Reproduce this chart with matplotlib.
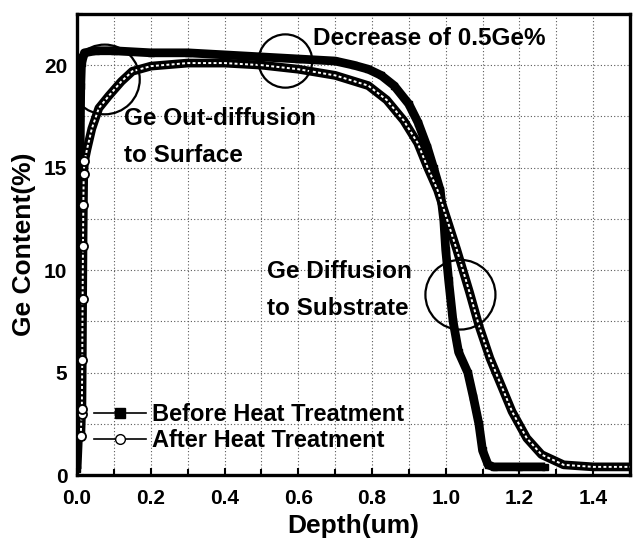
import matplotlib
matplotlib.use("Agg")
import matplotlib.pyplot as plt
from matplotlib.patches import Ellipse
from matplotlib.lines import Line2D
from matplotlib.ticker import MultipleLocator

plt.rcParams['font.family'] = ['Liberation Sans', 'DejaVu Sans']
plt.rcParams['font.weight'] = 'bold'

# ---- data ----
before_x = [0.0, 0.004, 0.006, 0.007, 0.008, 0.009, 0.010, 0.012, 0.02, 0.05, 0.1, 0.2,
            0.3, 0.4, 0.5, 0.6, 0.7, 0.75, 0.79, 0.825, 0.86, 0.9, 0.925, 0.95, 0.967,
            0.985, 0.995, 1.0, 1.008, 1.02, 1.035, 1.06, 1.075, 1.09, 1.10, 1.115, 1.13,
            1.2, 1.27]
before_y = [0.3, 2.0, 5.0, 9.4, 13.6, 17.4, 19.0, 20.1, 20.6, 20.7, 20.7, 20.6,
            20.6, 20.5, 20.4, 20.3, 20.2, 20.0, 19.8, 19.5, 19.0, 18.1, 17.2, 16.0, 15.0,
            13.9, 12.4, 11.0, 9.5, 7.5, 6.0, 5.0, 3.8, 2.5, 1.2, 0.5, 0.4,
            0.4, 0.4]

after_x = [0.010, 0.012, 0.013, 0.014, 0.015, 0.016, 0.017, 0.018, 0.02, 0.027, 0.04,
           0.059, 0.086, 0.12, 0.15, 0.2, 0.3, 0.4, 0.5, 0.6, 0.7, 0.79, 0.84, 0.886,
           0.924, 0.951, 0.978, 1.005, 1.03, 1.05, 1.065, 1.09, 1.12, 1.15, 1.18, 1.22,
           1.26, 1.32, 1.4, 1.5]
after_y = [1.9, 3.0, 3.2, 5.6, 8.6, 11.2, 13.2, 14.7, 15.3, 15.9, 16.9,
           17.9, 18.5, 19.2, 19.7, 19.95, 20.1, 20.1, 20.0, 19.8, 19.5, 19.0, 18.3, 17.3,
           16.2, 15.0, 13.9, 12.4, 11.0, 9.8, 8.9, 7.3, 5.7, 4.4, 3.1, 1.8,
           1.0, 0.5, 0.4, 0.4]

x_ticks = [0.0, 0.2, 0.4, 0.6, 0.8, 1.0, 1.2, 1.4]
x_tick_labels = ["0.0", "0.2", "0.4", "0.6", "0.8", "1.0", "1.2", "1.4"]
y_ticks = [0, 5, 10, 15, 20]
y_tick_labels = ["0", "5", "10", "15", "20"]
series_labels = ["Before Heat Treatment", "After Heat Treatment"]

fig = plt.figure(figsize=(6.37, 5.55), dpi=100)
ax = fig.add_axes([0.121, 0.144, 0.868, 0.831])

ax.set_xlim(0, 1.5)
ax.set_ylim(0, 22.5)

# grid
ax.xaxis.set_minor_locator(MultipleLocator(0.1))
ax.yaxis.set_minor_locator(MultipleLocator(2.5))
ax.grid(True, which='both', color='0.35', linestyle=(0, (1, 2)), linewidth=0.8)
ax.set_axisbelow(True)

# before: thick black line with squares
ax.plot(before_x, before_y, color='black', lw=6.3, marker='s', ms=5,
        solid_joinstyle='round', solid_capstyle='butt', zorder=3)
# after: hollow-circle band
ax.plot(after_x, after_y, color='black', lw=6.3, solid_joinstyle='round', zorder=4)
ax.plot(after_x, after_y, color='white', lw=1.4, linestyle=(0, (1.5, 1.2)), zorder=5)
ax.plot(after_x[:9], after_y[:9], linestyle='none', marker='o', ms=6.5,
        mfc='white', mec='black', mew=1.3, zorder=6)

# annotation circles
for (cx, cy, w, h) in [(0.075, 19.3, 0.19, 3.4), (0.565, 20.2, 0.146, 2.6),
                       (1.04, 8.8, 0.19, 3.4)]:
    ax.add_patch(Ellipse((cx, cy), w, h, fill=False, edgecolor='black', lw=1.6, zorder=7))

ax.text(0.64, 21.3, "Decrease of 0.5Ge%", fontsize=17.5, fontweight='bold', va='center', ha='left')
ax.text(0.127, 17.4, "Ge Out-diffusion", fontsize=17.5, fontweight='bold', va='center', ha='left')
ax.text(0.127, 15.6, "to Surface", fontsize=17.5, fontweight='bold', va='center', ha='left')
ax.text(0.516, 9.95, "Ge Diffusion", fontsize=17.5, fontweight='bold', va='center', ha='left')
ax.text(0.516, 8.15, "to Substrate", fontsize=17.5, fontweight='bold', va='center', ha='left')

# legend
handles = [Line2D([], [], color='black', lw=1.2, marker='s', ms=7),
           Line2D([], [], color='black', lw=1.2, marker='o', ms=7, mfc='white', mec='black')]
leg = ax.legend(handles, series_labels, loc='lower left', bbox_to_anchor=(0.03, 0.05),
                frameon=False, fontsize=17, handlelength=2.2, handletextpad=0.25,
                labelspacing=0.12, borderpad=0, borderaxespad=0)
for t in leg.get_texts():
    t.set_fontweight('bold')

ax.set_xticks(x_ticks)
ax.set_xticklabels(x_tick_labels)
ax.set_yticks(y_ticks)
ax.set_yticklabels(y_tick_labels)
ax.tick_params(which='both', direction='in', width=1.5, labelsize=15)
ax.tick_params(which='major', length=5)
ax.tick_params(axis='x', which='major', pad=10)
ax.tick_params(axis='y', which='major', pad=7)
ax.tick_params(which='minor', length=4)
for lab in ax.get_xticklabels() + ax.get_yticklabels():
    lab.set_fontweight('bold')

for s in ax.spines.values():
    s.set_linewidth(2.4)

ax.set_xlabel("Depth(um)", fontsize=19, fontweight='bold', labelpad=4)
ax.set_ylabel("Ge Content(%)", fontsize=19, fontweight='bold', labelpad=6)

fig.savefig("out.png", dpi=100)
